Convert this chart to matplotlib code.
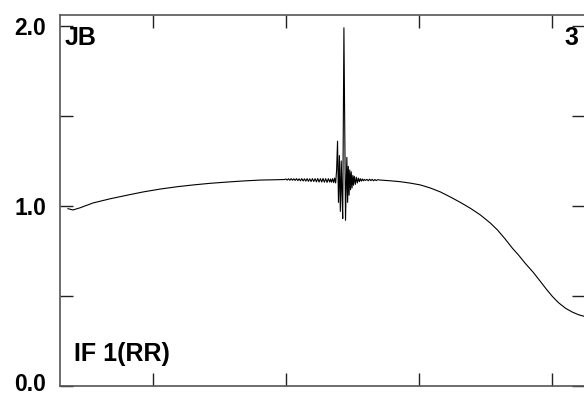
import matplotlib
matplotlib.use("Agg")
import matplotlib.pyplot as plt
from matplotlib.ticker import FuncFormatter
from matplotlib.transforms import ScaledTranslation

# ---- data (channel, amplitude) ----
chan_left = [36.1, 39.9, 45.2, 55.0, 67.8, 80.6, 92.6, 105.4, 118.2, 130.3,
             143.1, 155.9, 167.9, 180.7, 193.5, 199.0]
amp_left = [0.985, 0.978, 0.990, 1.017, 1.040, 1.060, 1.078, 1.094, 1.107, 1.117,
            1.126, 1.133, 1.139, 1.144, 1.146, 1.147]

chan_noise = [200, 201, 202, 203, 204, 205, 206, 207, 208, 209, 210, 211, 212, 213,
              214, 215, 216, 217, 218, 219, 220, 221, 222, 223, 224, 225, 226, 227,
              228, 229, 230, 231, 232, 233]
amp_noise = [1.150, 1.144, 1.151, 1.143, 1.152, 1.143, 1.151, 1.142, 1.152, 1.141,
             1.151, 1.140, 1.152, 1.139, 1.151, 1.138, 1.152, 1.137, 1.151, 1.136,
             1.152, 1.136, 1.152, 1.134, 1.153, 1.133, 1.152, 1.133, 1.153, 1.132,
             1.152, 1.131, 1.152, 1.133]

chan_spike = [233.7, 234.4, 235.2, 236.0, 236.7, 237.5, 238.2, 238.9, 239.6, 240.3,
              241.0, 241.7, 242.3, 242.8, 243.7, 244.9, 245.9, 246.5, 247.0, 247.6,
              248.1, 248.7, 249.2, 249.8, 250.4, 250.9, 251.5, 252.3, 253.0, 253.8,
              254.5, 255.3, 256.0, 256.8, 257.5, 258.3, 259.0]
amp_spike = [1.150, 1.132, 1.152, 1.130, 1.155, 1.128, 1.200, 1.360, 1.020, 1.280,
             0.970, 1.250, 1.050, 0.930, 1.990, 0.920, 1.270, 1.020, 1.220, 1.060,
             1.200, 1.090, 1.190, 1.100, 1.170, 1.115, 1.165, 1.120, 1.160, 1.128,
             1.155, 1.135, 1.152, 1.138, 1.150, 1.140, 1.148]

chan_right = [259.8, 261.0, 262.0, 263.0, 264.0, 265.0, 266.0, 267.0, 268.0, 269.0,
              271.1, 278.6, 286.1, 293.7, 301.2, 308.7, 316.3, 323.8, 331.3, 338.9,
              346.4, 353.9, 359.2, 365.2, 370.5, 375.0, 380.3, 386.3, 391.6, 396.1,
              400.6, 405.1, 410.4, 415.7, 420.2, 424.0]
amp_right = [1.142, 1.148, 1.140, 1.149, 1.141, 1.148, 1.140, 1.147, 1.141, 1.146,
             1.144, 1.140, 1.135, 1.127, 1.117, 1.100, 1.078, 1.050, 1.020, 0.987,
             0.950, 0.905, 0.867, 0.815, 0.765, 0.728, 0.680, 0.630, 0.580, 0.537,
             0.497, 0.463, 0.432, 0.410, 0.396, 0.388]

chan = chan_left + chan_noise + chan_spike + chan_right
amp = amp_left + amp_noise + amp_spike + amp_right

x_ticks = [100, 200, 300, 400]
y_ticks = [0.0, 0.5, 1.0, 1.5, 2.0]
x_range = (30.1, 424.7)
y_range = (0.0, 2.061)

label_top_left = "JB"
label_top_right = "3"
label_bottom = "IF 1(RR)"

plt.rcParams['font.family'] = ['Liberation Sans', 'DejaVu Sans']

fig = plt.figure(figsize=(5.84, 3.95), dpi=100)
ax = fig.add_axes([60 / 584, 9 / 395, 524.5 / 584, 371 / 395])

ax.plot(chan, amp, color='black', lw=0.8)

ax.set_xlim(*x_range)
ax.set_ylim(*y_range)
ax.set_xticks(x_ticks)
ax.set_yticks(y_ticks)
ax.xaxis.set_major_formatter(FuncFormatter(lambda v, p: ""))
ax.yaxis.set_major_formatter(FuncFormatter(
    lambda v, p: f"{v:.1f}" if abs(v - round(v)) < 1e-6 else ""))

ax.tick_params(axis='both', which='both', direction='in', length=9.5, width=1.0,
               color='#222222', top=True, right=True, labelsize=16.5, pad=10)
fig.canvas.draw()
for v, lab in zip(y_ticks, ax.get_yticklabels()):
    lab.set_fontweight('bold')
    if v == 0.0:
        lab.set_transform(lab.get_transform() + ScaledTranslation(0, 3 / 72, fig.dpi_scale_trans))
for s in ax.spines.values():
    s.set_color('#555555')
    s.set_linewidth(1.2)

txt_kw = dict(fontsize=18, fontweight='bold', color='black')
ax.annotate(label_top_left, xy=(0, 1), xycoords='axes fraction',
            xytext=(5, -11), textcoords='offset pixels', ha='left', va='top', **txt_kw)
ax.annotate(label_top_right, xy=(1, 1), xycoords='axes fraction',
            xytext=(-20, -11), textcoords='offset pixels', ha='left', va='top', **txt_kw)
ax.annotate(label_bottom, xy=(0, 0), xycoords='axes fraction',
            xytext=(14, 20), textcoords='offset pixels', ha='left', va='bottom', **txt_kw)

fig.savefig("out.png", dpi=100)
